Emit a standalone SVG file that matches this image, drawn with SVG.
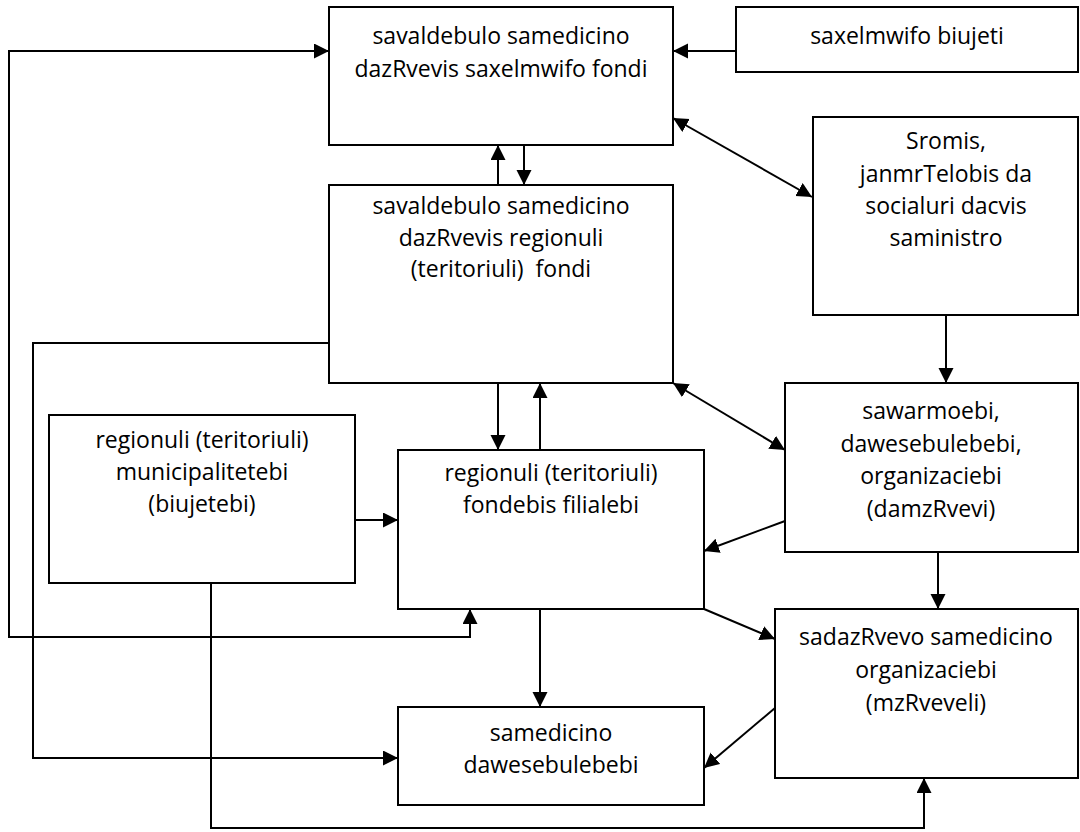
<svg xmlns="http://www.w3.org/2000/svg" width="1080" height="832" viewBox="0 0 1080 832">
  <style>
    .box { fill: #fff; stroke: #000; stroke-width: 2; }
    .lbl { font-family: "Open Sans", "Liberation Sans", sans-serif; font-size: 23px; fill: #000; text-anchor: middle; white-space: pre; }
    .wire { fill: none; stroke: #000; stroke-width: 2; }
    .one { marker-end: url(#tip); }
    .two { marker-start: url(#tip); marker-end: url(#tip); }
  </style>
  <defs>
    <marker id="tip" markerUnits="userSpaceOnUse" markerWidth="16" markerHeight="16" refX="15" refY="7.5" orient="auto-start-reverse">
      <path d="M0,0 L15,7.5 L0,15 z" fill="#000"/>
    </marker>
  </defs>
  <rect width="1080" height="832" fill="#fff"/>

  <!-- connectors -->
  <g id="connectors">
    <path class="wire one" d="M736,51 H673"/>
    <path class="wire two" d="M329,51 H9 V637 H470 V609"/>
    <path class="wire one" d="M498,185 V145"/>
    <path class="wire one" d="M524,145 V185"/>
    <path class="wire two" d="M673,118 L812,197"/>
    <path class="wire one" d="M946,315 V383"/>
    <path class="wire two" d="M673,383 L785,450"/>
    <path class="wire one" d="M498,383 V450"/>
    <path class="wire one" d="M540,450 V383"/>
    <path class="wire one" d="M355,520 H398"/>
    <path class="wire one" d="M329,343 H33 V758 H398"/>
    <path class="wire one" d="M211,583 V828 H924 V778"/>
    <path class="wire one" d="M785,521 L704,551"/>
    <path class="wire one" d="M938,552 V609"/>
    <path class="wire one" d="M540,609 V707"/>
    <path class="wire one" d="M704,609 L775,639"/>
    <path class="wire one" d="M775,708 L704,768"/>
  </g>

  <g id="state-fund">
    <rect class="box" x="329" y="7" width="344" height="138"/>
    <text class="lbl" x="501" y="44">savaldebulo samedicino</text>
    <text class="lbl" x="501" y="77">dazRvevis saxelmwifo fondi</text>
  </g>

  <g id="state-budget">
    <rect class="box" x="736" y="7" width="342" height="65"/>
    <text class="lbl" x="907" y="44">saxelmwifo biujeti</text>
  </g>

  <g id="regional-fund">
    <rect class="box" x="329" y="185" width="344" height="198"/>
    <text class="lbl" x="501" y="214">savaldebulo samedicino</text>
    <text class="lbl" x="501" y="246">dazRvevis regionuli</text>
    <text class="lbl" x="501" y="277">(teritoriuli)  fondi</text>
  </g>

  <g id="ministry">
    <rect class="box" x="813" y="117" width="265" height="198"/>
    <text class="lbl" x="946" y="149">Sromis,</text>
    <text class="lbl" x="946" y="182">janmrTelobis da</text>
    <text class="lbl" x="946" y="214">socialuri dacvis</text>
    <text class="lbl" x="946" y="246">saministro</text>
  </g>

  <g id="employers">
    <rect class="box" x="785" y="383" width="293" height="169"/>
    <text class="lbl" x="931" y="419">sawarmoebi,</text>
    <text class="lbl" x="931" y="452">dawesebulebebi,</text>
    <text class="lbl" x="931" y="484">organizaciebi</text>
    <text class="lbl" x="931" y="517">(damzRvevi)</text>
  </g>

  <g id="municipalities">
    <rect class="box" x="49" y="415" width="306" height="168"/>
    <text class="lbl" x="202" y="448">regionuli (teritoriuli)</text>
    <text class="lbl" x="202" y="480">municipalitetebi</text>
    <text class="lbl" x="202" y="512">(biujetebi)</text>
  </g>

  <g id="branches">
    <rect class="box" x="398" y="450" width="306" height="159"/>
    <text class="lbl" x="551" y="481">regionuli (teritoriuli)</text>
    <text class="lbl" x="551" y="513">fondebis filialebi</text>
  </g>

  <g id="insurers">
    <rect class="box" x="775" y="609" width="303" height="169"/>
    <text class="lbl" x="926" y="645">sadazRvevo samedicino</text>
    <text class="lbl" x="926" y="678">organizaciebi</text>
    <text class="lbl" x="926" y="711">(mzRveveli)</text>
  </g>

  <g id="medical-institutions">
    <rect class="box" x="398" y="707" width="306" height="98"/>
    <text class="lbl" x="551" y="741">samedicino</text>
    <text class="lbl" x="551" y="773">dawesebulebebi</text>
  </g>
</svg>
